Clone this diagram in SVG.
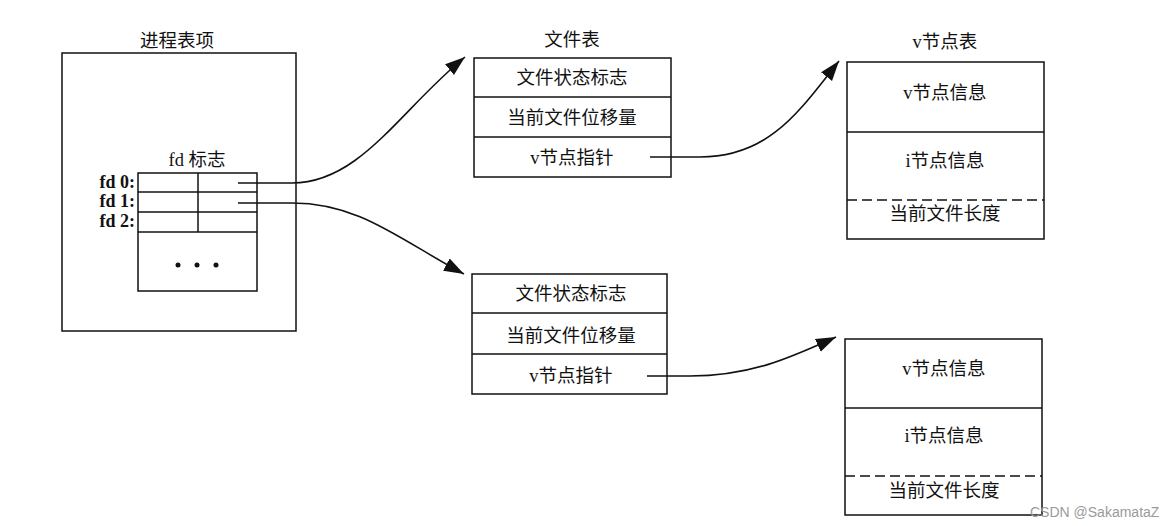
<svg xmlns="http://www.w3.org/2000/svg" width="1174" height="526" viewBox="0 0 1174 526">
<style>
.box{fill:none;stroke:#111;stroke-width:1.5}
.ln{fill:none;stroke:#111;stroke-width:1.5}
.dash{fill:none;stroke:#111;stroke-width:1.5;stroke-dasharray:10 5}
.t{font-family:"Liberation Serif","Noto Sans CJK SC",serif;font-size:18.5px;fill:#111;text-anchor:middle}
.fd{font-family:"Liberation Serif","Noto Sans CJK SC",serif;font-size:18px;font-weight:bold;fill:#111;text-anchor:end}
.conn{fill:none;stroke:#111;stroke-width:1.6}
.wm{font-family:"Liberation Sans",Arial,sans-serif;font-size:14px;fill:#9a9a9a}
</style>
<defs>
<marker id="ah" markerUnits="userSpaceOnUse" markerWidth="22" markerHeight="16" refX="20" refY="7" orient="auto">
<path d="M0,0 L20,7 L0,14 z" fill="#111"/>
</marker>
</defs>
<rect width="1174" height="526" fill="#fff"/>

<g id="process">
<text class="t" x="177" y="47">进程表项</text>
<rect class="box" x="62" y="53" width="234" height="278"/>
<text class="t" x="197" y="166">fd 标志</text>
<rect class="box" x="138" y="173" width="119" height="118"/>
<line class="ln" x1="138" y1="192" x2="257" y2="192"/>
<line class="ln" x1="138" y1="212" x2="257" y2="212"/>
<line class="ln" x1="138" y1="232" x2="257" y2="232"/>
<line class="ln" x1="198" y1="173" x2="198" y2="232"/>
<text class="fd" x="135" y="188">fd 0:</text>
<text class="fd" x="135" y="207">fd 1:</text>
<text class="fd" x="135" y="227">fd 2:</text>
<circle cx="178" cy="265" r="2.5" fill="#111"/>
<circle cx="197" cy="265" r="2.5" fill="#111"/>
<circle cx="216" cy="265" r="2.5" fill="#111"/>
</g>

<g id="filetable1">
<text class="t" x="572" y="46">文件表</text>
<rect class="box" x="474" y="58" width="197" height="119"/>
<line class="ln" x1="474" y1="97" x2="671" y2="97"/>
<line class="ln" x1="474" y1="137" x2="671" y2="137"/>
<text class="t" x="572" y="84">文件状态标志</text>
<text class="t" x="572" y="124">当前文件位移量</text>
<text class="t" x="572" y="164">v节点指针</text>
</g>

<g id="filetable2">
<rect class="box" x="472" y="274" width="195" height="120"/>
<line class="ln" x1="472" y1="313" x2="667" y2="313"/>
<line class="ln" x1="472" y1="354" x2="667" y2="354"/>
<text class="t" x="571" y="300">文件状态标志</text>
<text class="t" x="571" y="342">当前文件位移量</text>
<text class="t" x="571" y="382">v节点指针</text>
</g>

<g id="vnode1">
<text class="t" x="945" y="48">v节点表</text>
<rect class="box" x="847" y="62" width="197" height="177"/>
<line class="ln" x1="847" y1="132" x2="1044" y2="132"/>
<line class="dash" x1="847" y1="200" x2="1044" y2="200"/>
<text class="t" x="945" y="99">v节点信息</text>
<text class="t" x="945" y="167">i节点信息</text>
<text class="t" x="945" y="220">当前文件长度</text>
</g>

<g id="vnode2">
<rect class="box" x="845" y="339" width="197" height="176"/>
<line class="ln" x1="845" y1="408" x2="1042" y2="408"/>
<line class="dash" x1="845" y1="476" x2="1042" y2="476"/>
<text class="t" x="944" y="375">v节点信息</text>
<text class="t" x="944" y="442">i节点信息</text>
<text class="t" x="944" y="497">当前文件长度</text>
</g>

<g id="connectors">
<path class="conn" d="M238,183 L292,183 C360,183 400,110 465,57" marker-end="url(#ah)"/>
<path class="conn" d="M238,203 L292,203 C360,203 400,240 464,274" marker-end="url(#ah)"/>
<path class="conn" d="M650,157 L700,157 C770,157 800,110 839,61" marker-end="url(#ah)"/>
<path class="conn" d="M647,376 L690,376 C750,376 790,358 836,337" marker-end="url(#ah)"/>
</g>

<text class="wm" x="1030" y="517">CSDN @SakamataZ</text>
</svg>
